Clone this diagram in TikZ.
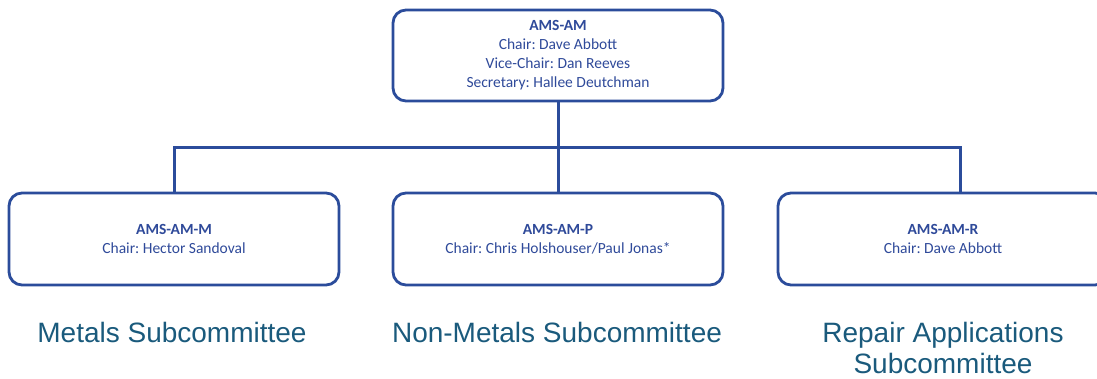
\documentclass[tikz,border=0pt]{standalone}
\usepackage{fontspec}
\setmainfont{Carlito}
\newfontfamily\tagfont{Liberation Sans}
\usepackage{xcolor}
\definecolor{amsline}{HTML}{2B4C9B}
\definecolor{amstext}{HTML}{2F4A9A}
\definecolor{amstag}{HTML}{1A5A7C}
\usepackage{tikz}
\usetikzlibrary{positioning}
\frenchspacing
\tikzset{
  amsbox/.style={draw=amsline,line width=2.8pt,rounded corners=13pt,fill=white,minimum width=330pt,align=center,text=amstext,font=\fontsize{15.5}{19}\selectfont,inner sep=0pt},
  amslink/.style={draw=amsline,line width=3pt},
  amslabel/.style={anchor=north,inner sep=0pt,align=center,text=amstag,font=\tagfont\fontsize{28}{31}\selectfont},
}

\begin{document}
\begin{tikzpicture}[x=1pt,y=-1pt]
\useasboundingbox (0,0) rectangle (1097,379);
\clip (0,0) rectangle (1097,379);

\node[amsbox,minimum height=91pt] (am) at (558,55.5){\textbf{AMS-AM}\\Chair: Dave Abbott\\Vice-Chair: Dan Reeves\\Secretary: Hallee Deutchman};
\node[amsbox,minimum height=92pt] (amm) at (174,239){\textbf{AMS-AM-M}\\Chair: Hector Sandoval};
\node[amsbox,minimum height=92pt] (amp) at (558,239){\textbf{AMS-AM-P}\\Chair: Chris Holshouser/Paul Jonas*};
\node[amsbox,minimum height=92pt] (amr) at (943,239){\textbf{AMS-AM-R}\\Chair: Dave Abbott};

% tree connectors
\coordinate (bus) at (558,148);
\draw[amslink](am.south)--(am.south |- bus);
\draw[amslink](amm.north)|-(bus)-|([xshift=17pt]amr.north);
\draw[amslink](amp.north)--(amp.north |- bus);

% subcommittee names
\node[amslabel] (lm) at (172,322){Metals Subcommittee};
\node[amslabel] (lp) at (557,322){Non-Metals Subcommittee};
\node[amslabel] (lr) at (943,322){Repair Applications\\Subcommittee};
\end{tikzpicture}
\end{document}
